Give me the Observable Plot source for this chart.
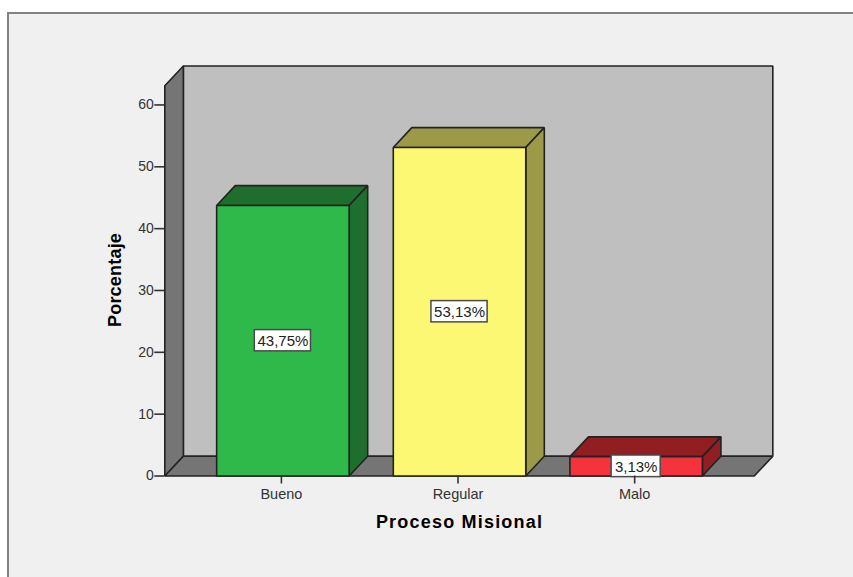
<!DOCTYPE html>
<html>
<head>
<meta charset="utf-8">
<script src="https://cdn.jsdelivr.net/npm/d3@7"></script>
<script src="https://cdn.jsdelivr.net/npm/@observablehq/plot@0.6"></script>
<style>
  html, body { margin: 0; padding: 0; background: #ffffff; width: 853px; height: 577px; overflow: hidden; }
  #panel { position: absolute; left: 7px; top: 12px; width: 860px; height: 580px; box-sizing: border-box;
           background: #f0f0f0; border: 2px solid #828282; }
  #chart { position: absolute; left: 0; top: 0; }
  #chart svg { background: transparent; }
</style>
</head>
<body>
<div id="panel"></div>
<div id="chart"></div>
<script>
// Survey result: share of responses per rating of the "Proceso Misional"
const categories = ["Bueno", "Regular", "Malo"];
const percentages = [43.75, 53.13, 3.13];
const valueLabels = ["43,75%", "53,13%", "3,13%"];
const yTicks = [0, 10, 20, 30, 40, 50, 60];

const frontColors = ["#2fb94b", "#fdf873", "#f4333c"];
const shadeColors = ["#1e6f2e", "#9d9a47", "#921e21"];

// Extruded look, expressed in scale units
const depthX = 0.105;    // category units
const depthY = 3.2;      // percentage points
const halfBar = 0.375;
const xMin = -0.6686;
const xMax = 2.6686;
const yFrontTop = 63.1;
const boxHalfW = [0.159, 0.159, 0.139];
const boxHalfH = [1.72, 1.72, 1.75];

const edge = "#222222";

// One closed polygon of the extruded box
function face(points, fill, strokeWidth = 1.6) {
  return Plot.line(points, {
    x: d => d[0], y: d => d[1],
    curve: "linear-closed",
    fill, stroke: edge, strokeWidth, strokeLinejoin: "miter"
  });
}

// Text mark options do not cover letter spacing, so set it on the rendered group
const tracked = spacing => (index, scales, values, dimensions, context, next) => {
  const g = next(index, scales, values, dimensions, context);
  g.style.letterSpacing = spacing;
  return g;
};

const walls = [
  // back wall
  face([[xMin + depthX, depthY], [xMax + depthX, depthY],
        [xMax + depthX, yFrontTop + depthY], [xMin + depthX, yFrontTop + depthY]], "#bfbfbf"),
  // left wall
  face([[xMin, 0], [xMin + depthX, depthY],
        [xMin + depthX, yFrontTop + depthY], [xMin, yFrontTop]], "#757575"),
  // floor
  face([[xMin, 0], [xMax, 0], [xMax + depthX, depthY], [xMin + depthX, depthY]], "#757575")
];

const bars = categories.flatMap((_, i) => {
  const v = percentages[i], l = i - halfBar, r = i + halfBar;
  return [
    face([[l, v], [r, v], [r + depthX, v + depthY], [l + depthX, v + depthY]], shadeColors[i]),
    face([[r, 0], [r + depthX, depthY], [r + depthX, v + depthY], [r, v]], shadeColors[i]),
    face([[l, 0], [r, 0], [r, v], [l, v]], frontColors[i])
  ];
});

const rows = categories.map((c, i) => ({ i, label: valueLabels[i], mid: percentages[i] / 2 }));

const plot = Plot.plot({
  width: 853,
  height: 577,
  marginTop: 65.5,
  marginBottom: 101.5,
  marginLeft: 164.3,
  marginRight: 80.7,
  style: { fontFamily: "'Liberation Sans', Arial, sans-serif", background: "transparent", overflow: "visible" },
  x: { type: "linear", domain: [xMin, xMax + depthX], range: [164.3, 772.3] },
  y: { type: "linear", domain: [0, yFrontTop + depthY] },
  marks: [
    ...walls,
    ...bars,
    // value boxes, centred on each bar
    Plot.rect(rows, {
      x1: d => d.i - boxHalfW[d.i], x2: d => d.i + boxHalfW[d.i],
      y1: d => d.mid - boxHalfH[d.i], y2: d => d.mid + boxHalfH[d.i],
      fill: "#ffffff", stroke: "#4a4a4a", strokeWidth: 1.5
    }),
    Plot.text(rows, {
      x: "i", y: "mid", text: "label", dy: 0.5,
      fontSize: 15, fill: "#222222"
    }),
    Plot.axisY({
      ticks: yTicks, tickSize: 10, tickPadding: 1, fontSize: 14,
      label: null, color: "#333333", strokeWidth: 1.6, strokeOpacity: 1
    }),
    Plot.axisX({
      ticks: [0, 1, 2], tickFormat: i => categories[i], tickSize: 8, tickPadding: 4.5, fontSize: 14.5,
      label: null, color: "#333333", strokeWidth: 1.6, strokeOpacity: 1,
      textAnchor: "middle", dx: -1.5
    }),
    // axis titles
    Plot.text(["Porcentaje"], {
      text: d => d, y: [31.7], frameAnchor: "left", textAnchor: "middle", dx: -49.5, rotate: -90,
      fontSize: 18, fontWeight: "bold", fill: "#000000", render: tracked("0.2px")
    }),
    Plot.text(["Proceso Misional"], {
      text: d => d, x: [1], frameAnchor: "bottom", dy: 51.5,
      fontSize: 18, fontWeight: "bold", fill: "#000000", render: tracked("1.2px")
    })
  ]
});

document.getElementById("chart").append(plot);
</script>
</body>
</html>
